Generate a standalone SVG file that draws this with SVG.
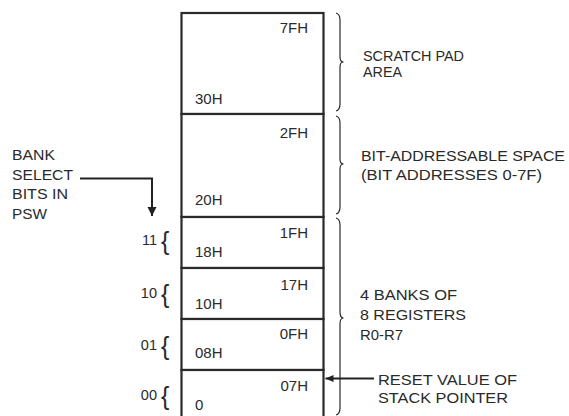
<svg xmlns="http://www.w3.org/2000/svg" width="569" height="416" viewBox="0 0 569 416">
<style>
text{font-family:"Liberation Sans",Arial,sans-serif;font-size:15px;fill:#2a2a2a}
.r{text-anchor:end}
.blk{fill:#fff;stroke:#2a2a2a;stroke-width:2.2}
.brace{fill:none;stroke:#2a2a2a;stroke-width:1.2}
.lb{font-size:14.5px}
.cb{font-size:25px}
.conn{fill:none;stroke:#222;stroke-width:2}
</style>
<defs>
<marker id="ahDown" markerUnits="userSpaceOnUse" markerWidth="10" markerHeight="10" refX="9" refY="4.5" orient="auto">
<path d="M0,0 L9,4.5 L0,9 Z" fill="#222"/>
</marker>
<marker id="ahSmall" markerUnits="userSpaceOnUse" markerWidth="9" markerHeight="8" refX="8" refY="3.5" orient="auto">
<path d="M0,0 L8,3.5 L0,7 Z" fill="#222"/>
</marker>
</defs>
<rect width="569" height="416" fill="#fff"/>

<g id="scratch-pad">
<rect class="blk" x="181.5" y="13" width="142" height="101"/>
<text class="r" x="308" y="33">7FH</text>
<text x="195" y="104">30H</text>
</g>
<g id="bit-addressable">
<rect class="blk" x="181.5" y="114" width="142" height="103"/>
<text class="r" x="308" y="138">2FH</text>
<text x="195" y="205">20H</text>
</g>
<g id="bank-3">
<rect class="blk" x="181.5" y="217" width="142" height="51"/>
<text class="r" x="308" y="238">1FH</text>
<text x="195" y="257">18H</text>
<text class="r lb" x="157" y="245">11</text>
<text class="cb" x="161" y="250">{</text>
</g>
<g id="bank-2">
<rect class="blk" x="181.5" y="268" width="142" height="51"/>
<text class="r" x="308" y="290">17H</text>
<text x="195" y="309">10H</text>
<text class="r lb" x="157" y="298">10</text>
<text class="cb" x="161" y="303">{</text>
</g>
<g id="bank-1">
<rect class="blk" x="181.5" y="319" width="142" height="51"/>
<text class="r" x="308" y="339">0FH</text>
<text x="195" y="358">08H</text>
<text class="r lb" x="157" y="350">01</text>
<text class="cb" x="161" y="355">{</text>
</g>
<g id="bank-0">
<rect class="blk" x="181.5" y="370" width="142" height="60"/>
<text class="r" x="308" y="391">07H</text>
<text x="195" y="410">0</text>
<text class="r lb" x="157" y="400">00</text>
<text class="cb" x="161" y="405">{</text>
</g>

<g id="scratch-label">
<path class="brace" d="M336,13 Q340,14 340,20 L340,57 Q340,62 343.5,62 Q340,62 340,67 L340,104 Q340,110 336,111"/>
<text x="363" y="61" textLength="101" lengthAdjust="spacingAndGlyphs">SCRATCH PAD</text>
<text x="363" y="77" textLength="39" lengthAdjust="spacingAndGlyphs">AREA</text>
</g>
<g id="bit-label">
<path class="brace" d="M336,116 Q340,117 340,123 L340,159 Q340,164 343.5,164 Q340,164 340,169 L340,207 Q340,213 336,214"/>
<text x="361" y="161" textLength="204" lengthAdjust="spacingAndGlyphs">BIT-ADDRESSABLE SPACE</text>
<text x="361" y="180" textLength="181" lengthAdjust="spacingAndGlyphs">(BIT ADDRESSES 0-7F)</text>
</g>
<g id="banks-label">
<path class="brace" d="M336,218 Q340,219 340,225 L340,312 Q340,318 343.5,318 Q340,318 340,324 L340,408 Q340,414 336,415"/>
<text x="360" y="300" textLength="97" lengthAdjust="spacingAndGlyphs">4 BANKS OF</text>
<text x="360" y="320" textLength="106" lengthAdjust="spacingAndGlyphs">8 REGISTERS</text>
<text x="360" y="340" textLength="43" lengthAdjust="spacingAndGlyphs">R0-R7</text>
</g>
<g id="bank-select">
<text x="12" y="160" textLength="43" lengthAdjust="spacingAndGlyphs">BANK</text>
<text x="12" y="179.5" textLength="61" lengthAdjust="spacingAndGlyphs">SELECT</text>
<text x="12" y="199" textLength="56" lengthAdjust="spacingAndGlyphs">BITS IN</text>
<text x="12" y="218.5" textLength="35" lengthAdjust="spacingAndGlyphs">PSW</text>
</g>
<g id="reset-label">
<text x="378" y="385" textLength="139" lengthAdjust="spacingAndGlyphs">RESET VALUE OF</text>
<text x="378" y="403" textLength="130" lengthAdjust="spacingAndGlyphs">STACK POINTER</text>
</g>

<g id="connectors">
<path class="conn" d="M80,178.5 H152 V216" marker-end="url(#ahDown)"/>
<path class="conn" d="M374,378.5 H325.5" marker-end="url(#ahSmall)"/>
</g>
</svg>
